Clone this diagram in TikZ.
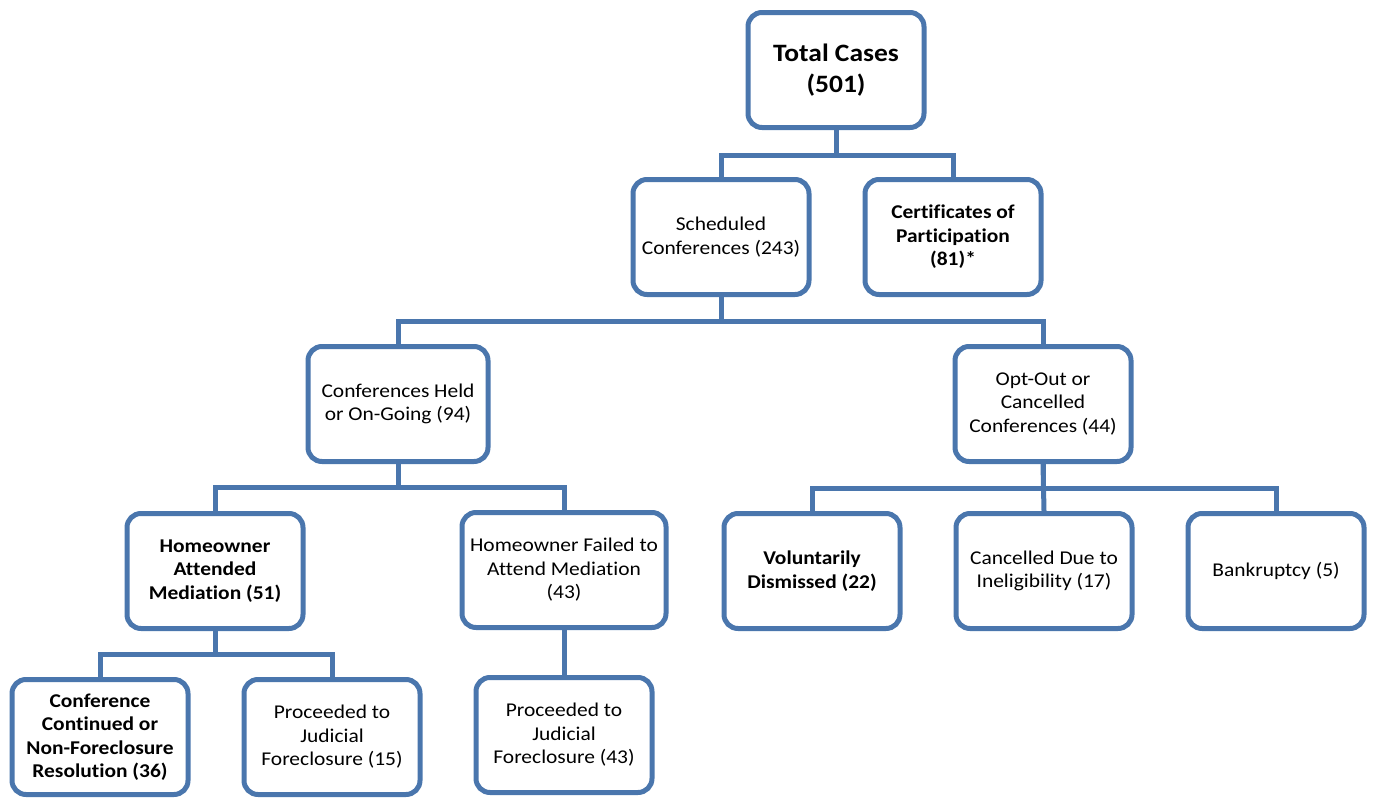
\documentclass[tikz,border=0pt]{standalone}
\usepackage{fontspec}
\setmainfont[FakeStretch=1.1,Ligatures={NoCommon}]{Carlito}
\definecolor{bl}{RGB}{74,118,173}
\begin{document}
\begin{tikzpicture}[x=1pt,y=-1pt,
  box/.style={draw=bl, line width=5pt, rounded corners=14pt, minimum width=176pt,
    minimum height=115pt, align=center, inner sep=0pt, fill=white,
    font=\fontsize{19.5}{23.5}\selectfont},
  bbox/.style={box, font=\fontsize{19.5}{23.5}\selectfont\bfseries},
  conn/.style={draw=bl, line width=5pt}]
\useasboundingbox (0,0) rectangle (1376,798);
\node[box, font=\fontsize{25}{31}\selectfont\bfseries] (total) at (836,70) {Total Cases\\(501)};
\node[box] (sched) at (721,237) {Scheduled\\Conferences (243)};
\node[bbox] (cert) at (953,237) {Certificates of\\Participation\\(81)*};
\node[box, minimum width=180pt] (held) at (398,404) {Conferences Held\\or On-Going (94)};
\node[box] (opt) at (1043,404) {Opt-Out or\\Cancelled\\Conferences (44)};
\node[bbox] (att) at (215,571) {Homeowner\\Attended\\Mediation (51)};
\node[box, minimum width=204pt] (fail) at (564,570) {Homeowner Failed to\\Attend Mediation\\(43)};
\node[bbox] (vol) at (812,571) {Voluntarily\\Dismissed (22)};
\node[box] (canc) at (1044,571) {Cancelled Due to\\Ineligibility (17)};
\node[box] (bank) at (1276,571) {Bankruptcy (5)};
\node[bbox] (cont) at (100,737) {Conference\\Continued or\\Non-Foreclosure\\Resolution (36)};
\node[box] (p15) at (332,737) {Proceeded to\\Judicial\\Foreclosure (15)};
\node[box] (p43) at (564,735) {Proceeded to\\Judicial\\Foreclosure (43)};
% connectors
\draw[conn] (total.south) -- ++(0,25) -| (sched.north);
\draw[conn] (total.south) ++(0,25) -| (cert.north);
\draw[conn] (sched.south) -- ++(0,24) -| (held.north);
\draw[conn] (sched.south) ++(0,24) -| (opt.north);
\draw[conn] (held.south) -- ++(0,23) -| (att.north);
\draw[conn] (held.south) ++(0,23) -| (fail.north);
\draw[conn] (opt.south) -- ++(0,24) -| (vol.north);
\draw[conn] (opt.south) -- (canc.north);
\draw[conn] (opt.south) ++(0,24) -| (bank.north);
\draw[conn] (att.south) -- ++(0,23) -| (cont.north);
\draw[conn] (att.south) ++(0,23) -| (p15.north);
\draw[conn] (fail.south) -- (p43.north);
\end{tikzpicture}
\end{document}
